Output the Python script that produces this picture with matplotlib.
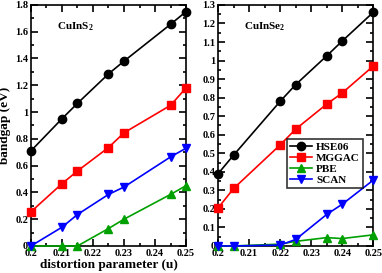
import matplotlib
matplotlib.use('Agg')
import matplotlib.pyplot as plt
from matplotlib.ticker import MultipleLocator, FormatStrFormatter

plt.rcParams['font.family'] = 'Liberation Serif'
plt.rcParams['font.weight'] = 'bold'
plt.rcParams['mathtext.fontset'] = 'custom'
plt.rcParams['mathtext.rm'] = 'Liberation Serif:bold'

# CuInS2 panel
u_s = [0.2, 0.21, 0.215, 0.225, 0.23, 0.245, 0.25]
hse_s = [0.71, 0.95, 1.065, 1.285, 1.38, 1.655, 1.75]
mggac_s = [0.255, 0.465, 0.56, 0.735, 0.845, 1.05, 1.18]
pbe_s = [0.0, 0.0, 0.0, 0.13, 0.2, 0.385, 0.45]
scan_s = [0.0, 0.14, 0.235, 0.385, 0.44, 0.665, 0.73]

# CuInSe2 panel
u_se = [0.2, 0.205, 0.22, 0.225, 0.235, 0.24, 0.25]
hse_se = [0.39, 0.49, 0.78, 0.87, 1.025, 1.105, 1.26]
mggac_se = [0.205, 0.31, 0.545, 0.63, 0.765, 0.825, 0.97]
pbe_se = [0.0, 0.0, 0.01, 0.025, 0.045, 0.04, 0.06]
scan_se = [0.0, 0.0, 0.005, 0.035, 0.17, 0.225, 0.355]

labels = ['HSE06', 'MGGAC', 'PBE', 'SCAN']
colors = ['black', 'red', '#00a000', 'blue']
markers = ['o', 's', '^', 'v']

fig = plt.figure(figsize=(3.82, 2.73), dpi=100)
ax1 = fig.add_axes([0.081, 0.099, 0.406, 0.883])
ax2 = fig.add_axes([0.571, 0.099, 0.406, 0.883])


def draw(ax, u, series):
    for y, lab, c, m in zip(series, labels, colors, markers):
        ax.plot(u, y, color=c, marker=m, markersize=6, linewidth=1.2,
                label=lab, clip_on=False, zorder=3)


draw(ax1, u_s, [hse_s, mggac_s, pbe_s, scan_s])
draw(ax2, u_se, [hse_se, mggac_se, pbe_se, scan_se])

for ax in (ax1, ax2):
    ax.set_xlim(0.2, 0.25)
    ax.xaxis.set_major_locator(MultipleLocator(0.01))
    ax.xaxis.set_minor_locator(MultipleLocator(0.005))
    ax.xaxis.set_major_formatter(FormatStrFormatter('%g'))
    ax.yaxis.set_major_formatter(FormatStrFormatter('%g'))
    ax.tick_params(which='both', direction='in', top=True, right=True,
                   labelsize=7.5, width=1.2, pad=2)
    ax.tick_params(which='major', length=5)
    ax.tick_params(which='minor', length=2.5)
    for s in ax.spines.values():
        s.set_linewidth(1.2)

ax1.set_ylim(0, 1.8)
ax1.yaxis.set_major_locator(MultipleLocator(0.2))
ax1.yaxis.set_minor_locator(MultipleLocator(0.1))
ax2.set_ylim(0, 1.3)
ax2.yaxis.set_major_locator(MultipleLocator(0.1))
ax2.yaxis.set_minor_locator(MultipleLocator(0.05))

ax1.set_xlabel('distortion parameter (u)', fontsize=9.5, fontweight='bold', labelpad=1)
ax1.set_ylabel('bandgap (eV)', fontsize=9.5, fontweight='bold', labelpad=3)

ax1.text(0.17, 0.9, r'CuInS$_2$', transform=ax1.transAxes, fontsize=8, fontweight='bold')
ax2.text(0.17, 0.9, r'CuInSe$_2$', transform=ax2.transAxes, fontsize=8, fontweight='bold')

leg = ax2.legend(loc='upper left', bbox_to_anchor=(0.445, 0.445), fontsize=8,
                 frameon=True, fancybox=False, edgecolor='black',
                 handlelength=1.9, handletextpad=0.4, borderpad=0.3,
                 labelspacing=0.12, borderaxespad=0)
leg.get_frame().set_linewidth(1.2)

fig.savefig('out.png', dpi=100)
